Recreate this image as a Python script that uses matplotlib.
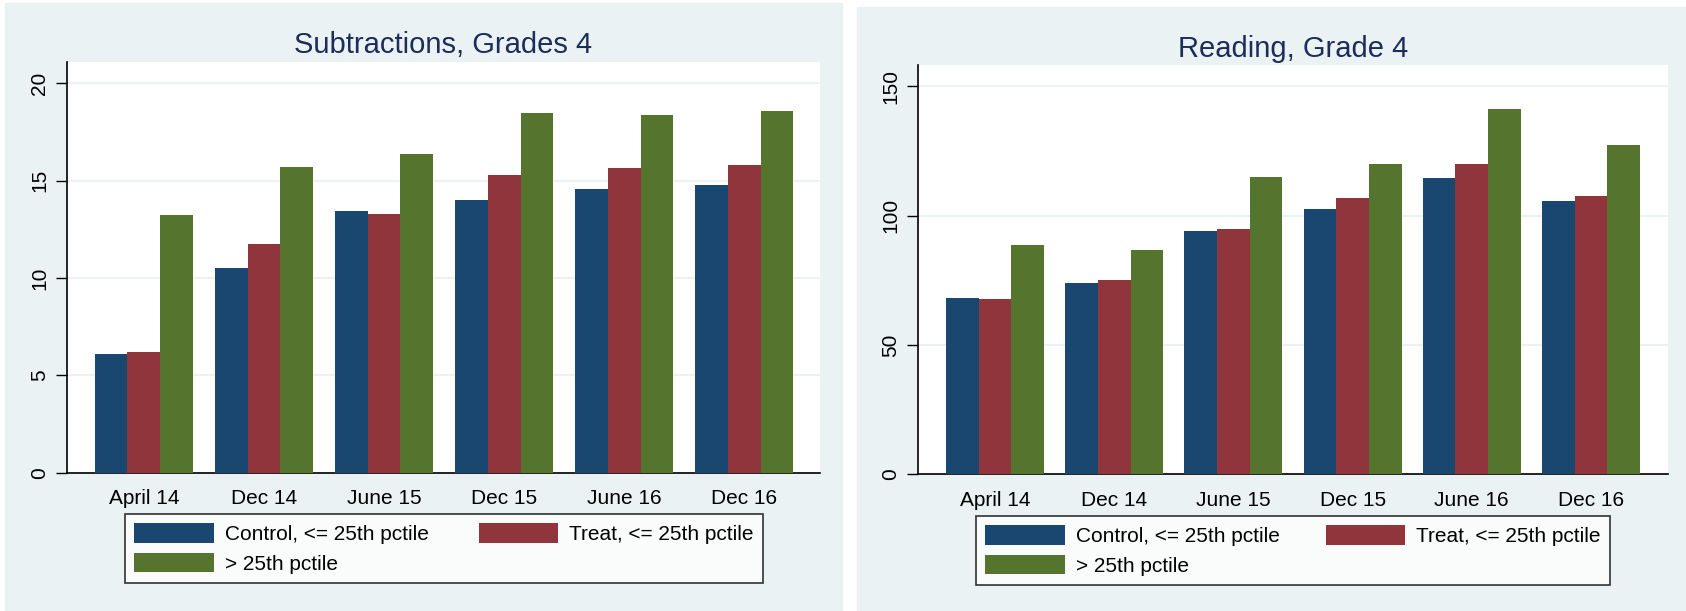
import matplotlib.pyplot as plt
import numpy as np
from matplotlib.patches import Rectangle

plt.rcParams['font.family'] = ['Liberation Sans', 'DejaVu Sans']

waves = ['April 14', 'Dec 14', 'June 15', 'Dec 15', 'June 16', 'Dec 16']
labels = ['Control, <= 25th pctile', 'Treat, <= 25th pctile', '> 25th pctile']

sub_control = [6.11, 10.51, 13.45, 14.01, 14.57, 14.77]
sub_treat = [6.21, 11.75, 13.29, 15.30, 15.66, 15.82]
sub_above = [13.23, 15.70, 16.38, 18.48, 18.38, 18.58]

read_control = [68.1, 73.9, 94.0, 102.6, 114.7, 105.6]
read_treat = [67.8, 75.0, 94.8, 106.8, 120.0, 107.6]
read_above = [88.7, 86.6, 115.0, 120.0, 141.2, 127.4]

colors = ['#1a476f', '#90353b', '#55752f']
bg = '#eaf2f3'
W, H = 1686, 611

fig = plt.figure(figsize=(W / 100, H / 100), dpi=100)

# panel backgrounds (stata graph region)
fig.patches.append(Rectangle((5 / W, 0), (842 - 5) / W, 1 - 3 / H,
                             transform=fig.transFigure, color=bg, zorder=-10))
fig.patches.append(Rectangle((857 / W, 0), (W - 857) / W, 1 - 7 / H,
                             transform=fig.transFigure, color=bg, zorder=-10))


def panel(rect, series, title, ylim, yticks, xlim, bw, leg_box):
    ax = fig.add_axes(rect)
    x = np.arange(len(waves))
    bars = []
    for k, vals in enumerate(series):
        b = ax.bar(x + (k - 1) * bw, vals, width=bw, color=colors[k],
                   label=labels[k], zorder=3)
        bars.append(b)
    ax.set_xlim(*xlim)
    ax.set_ylim(*ylim)
    ax.set_yticks(yticks)
    ax.set_yticklabels([str(t) for t in yticks], rotation=90, va='center', fontsize=15)
    ax.set_xticks(x)
    ax.set_xticklabels(waves, fontsize=15)
    ax.tick_params(axis='x', length=0, pad=12)
    ax.tick_params(axis='y', length=8, width=1, pad=5)
    ax.grid(axis='y', color=bg, linewidth=1.5, zorder=0)
    for s in ['top', 'right']:
        ax.spines[s].set_visible(False)
    for s in ['left', 'bottom']:
        ax.spines[s].set_linewidth(1.2)
    ax.set_title(title, fontsize=21, color='#1c2d5a', pad=6)

    x0, y0, x1, y1 = leg_box
    leg = fig.legend([bars[0], bars[2], bars[1]], [labels[0], labels[2], labels[1]],
                     ncol=2, mode='expand', loc='upper left',
                     bbox_to_anchor=(x0 / W, 1 - y1 / H, (x1 - x0) / W, (y1 - y0) / H),
                     fontsize=15, frameon=True, fancybox=False, edgecolor='black',
                     handlelength=3.8, handleheight=1.05, handletextpad=0.55,
                     labelspacing=0.42, borderpad=0.45, borderaxespad=0,
                     columnspacing=1.5)
    leg.get_frame().set_linewidth(1.2)
    return ax


panel([67 / W, 1 - 472.7 / H, (820 - 67) / W, (472.7 - 61.6) / H],
      [sub_control, sub_treat, sub_above], 'Subtractions, Grades 4',
      (0, 21.12), [0, 5, 10, 15, 20], (-0.64, 5.63), 0.2725,
      (125, 514, 763, 583))

panel([918 / W, 1 - 474 / H, (1668 - 918) / W, (474 - 65) / H],
      [read_control, read_treat, read_above], 'Reading, Grade 4',
      (0, 158.3), [0, 50, 100, 150], (-0.646, 5.646), 0.2735,
      (976, 516, 1610, 583))

fig.savefig('out.png', dpi=100)
